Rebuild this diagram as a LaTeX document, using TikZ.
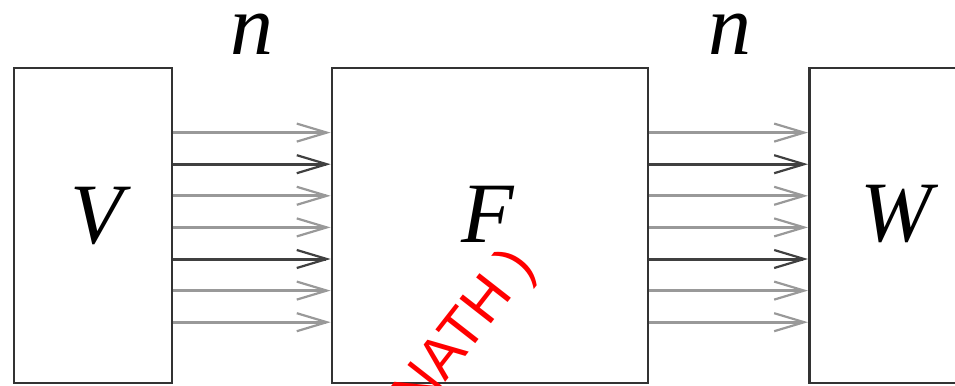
\documentclass[tikz,border=0pt]{standalone}
\usepackage{fontspec}
\setmainfont{Liberation Serif}
\newfontfamily\marksans{Liberation Sans}
\usetikzlibrary{positioning,arrows.meta}
\tikzset{
  blk/.style={draw=black!80, line width=1.4pt, minimum height=157.5pt, inner sep=0pt},
  sym/.style={font=\fontsize{43}{50}\selectfont\itshape, inner sep=0pt},
  wire/.style={-{Straight Barb[length=15pt,width=9pt,line width=1.1pt]}, line width=1.5pt, draw=black!40},
  wiredark/.style={wire, draw=black!75},
}

\begin{document}
\begin{tikzpicture}[x=0.5pt,y=-0.5pt]
  \useasboundingbox (0,0) rectangle (955,386);
  \node[blk, minimum width=79pt] (v) at (93,225.5) {};
  \node[blk, minimum width=158pt] (f) at (490,225.5) {};
  \node[blk, minimum width=79pt, anchor=west] (w) at (808,225.5) {};
  \node[sym] (vlab) at (97,216) {V};
  \node[sym] (flab) at (488,214) {F};
  \node[sym] (wlab) at (896,214) {W};
  \node[sym] (nin) at (252,34) {n};
  \node[sym] (nout) at (730,34) {n};
  % seven lines on each side
  \foreach \k/\s in {-3/wire,-2/wiredark,-1/wire,0/wire,1/wiredark,2/wire,3/wire} {
    \draw[\s] ([yshift={-0.95pt-15.8pt*\k}]v.east) -- ([yshift={-0.95pt-15.8pt*\k}]f.west);
    \draw[\s] ([yshift={-0.95pt-15.8pt*\k}]f.east) -- ([yshift={-0.95pt-15.8pt*\k}]w.west);
  }
  \node[rotate=52, text=red, font=\marksans\fontsize{29}{32}\selectfont, inner sep=0pt] (mark) at (466,332) {NATH )};
\end{tikzpicture}
\end{document}
